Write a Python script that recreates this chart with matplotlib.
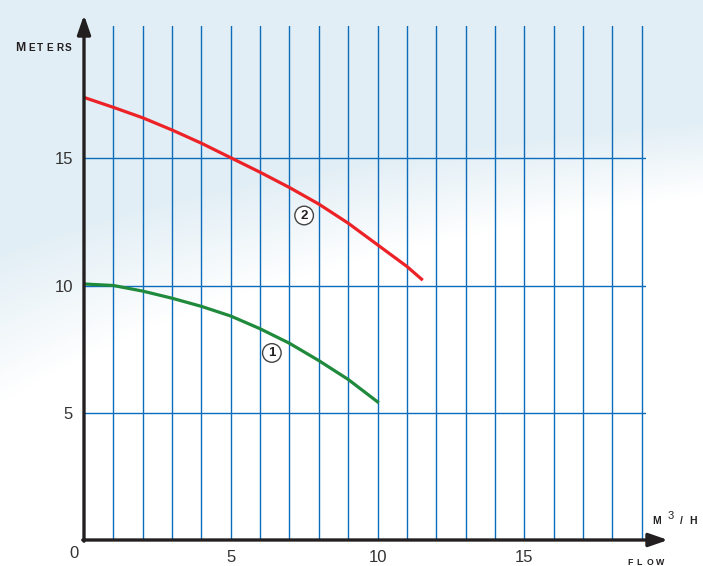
import numpy as np
import matplotlib.pyplot as plt
from matplotlib.transforms import ScaledTranslation

plt.rcParams['font.family'] = ['Liberation Sans', 'DejaVu Sans']

# pump curves (flow in m3/h, head in metres)
flow_1 = [0, 1, 2, 3, 4, 5, 6, 7, 8, 9, 10]
head_1 = [10.06, 10.0, 9.78, 9.5, 9.18, 8.8, 8.3, 7.73, 7.05, 6.31, 5.43]
flow_2 = [0, 1, 2, 3, 4, 5, 6, 7, 8, 9, 10, 11, 11.5]
head_2 = [17.39, 17.0, 16.59, 16.11, 15.59, 15.02, 14.45, 13.85, 13.2, 12.45, 11.6, 10.75, 10.25]

curve_labels = ['1', '2']
label_pos_x = [6.4, 7.5]
label_pos_y = [7.35, 12.75]

x_ticks = [0, 5, 10, 15]
y_ticks = [5, 10, 15]
x_grid = list(range(1, 20))

W, H = 703, 566
INK = '#231f20'
GRID = '#0b6cbb'

fig = plt.figure(figsize=(W / 100, H / 100), dpi=100)


def px(x, y):
    # pixel position (from top-left) -> figure fraction
    return x / W, 1 - y / H


def spaced(x0, y, s, size, step, weight='bold'):
    for i, ch in enumerate(s):
        fx, fy = px(x0 + i * step, y)
        fig.text(fx, fy, ch, fontsize=size, color=INK, fontweight=weight,
                 va='baseline', ha='left')


# pale water-like background
bg = fig.add_axes([0, 0, 1, 1])
bg.axis('off')
yy, xx = np.mgrid[0:1:300j, 0:1:400j]
alpha = np.clip(1.0 - 1.4 * yy - 1.5 * xx * yy, 0, 0.38)
img = np.zeros(yy.shape + (4,))
img[..., 0] = 0.70
img[..., 1] = 0.83
img[..., 2] = 0.90
img[..., 3] = alpha
bg.imshow(img, extent=[0, 1, 0, 1], aspect='auto', origin='upper')
bg.set_xlim(0, 1)
bg.set_ylim(0, 1)

# main axes: origin at pixel (84, 540)
ax = fig.add_axes([84 / W, 26 / H, 562 / W, 514 / H])
ax.patch.set_alpha(0)
ax.set_xlim(0, 562 / 29.35)
ax.set_ylim(0, 514 / 25.45)
for sp in ax.spines.values():
    sp.set_visible(False)

for x in x_grid:
    ax.axvline(x, color=GRID, lw=1.0, zorder=1)
for y in y_ticks:
    ax.axhline(y, color=GRID, lw=1.0, zorder=1)

ax.plot(flow_1, head_1, color='#1f8a3b', lw=2.3, zorder=3)
ax.plot(flow_2, head_2, color='#ec2227', lw=2.3, zorder=3)

for lab, lx, ly in zip(curve_labels, label_pos_x, label_pos_y):
    ax.text(lx, ly, lab, fontsize=9.5, fontweight='bold', color=INK,
            ha='center', va='center', zorder=4,
            bbox=dict(boxstyle='circle,pad=0.25', fc='white', ec='#444444', lw=1))

ax.set_xticks(x_ticks)
ax.set_yticks(y_ticks)
ax.tick_params(length=0, labelsize=12, labelcolor='#333333')
ax.tick_params(axis='x', pad=7)
ax.tick_params(axis='y', pad=8)
zero = ax.get_xticklabels()[0]
zero.set_horizontalalignment('right')
zero.set_transform(zero.get_transform() + ScaledTranslation(-4 / 72, 3 / 72, fig.dpi_scale_trans))

# axis arrows
arrow = dict(arrowstyle='-|>,head_length=1.15,head_width=0.4', lw=2.4,
             color=INK, mutation_scale=10, shrinkA=0, shrinkB=0)
ax.annotate('', xy=(0, 1 + 11 / 514), xytext=(0, -1.2 / 514),
            xycoords='axes fraction', arrowprops=arrow)
ax.annotate('', xy=(1 + 22 / 562, 0), xytext=(-1.2 / 562, 0),
            xycoords='axes fraction', arrowprops=arrow)

# axis titles
fx, fy = px(15, 51)
fig.text(fx, fy, 'M', fontsize=8.8, color=INK, fontweight='bold', va='baseline')
spaced(28, 51, 'ETERS', 7.2, 9.3)

spaced(652, 524, 'M', 7.5, 0)
fx, fy = px(668, 519)
fig.text(fx, fy, '3', fontsize=8, color=INK, va='baseline')
fx, fy = px(680, 524)
fig.text(fx, fy, '/', fontsize=7.5, color=INK, fontweight='bold', va='baseline')
spaced(689, 524, 'H', 7.5, 0)

spaced(627, 565, 'FLOW', 6.3, 9.6)

fig.savefig('out.png', dpi=100)
